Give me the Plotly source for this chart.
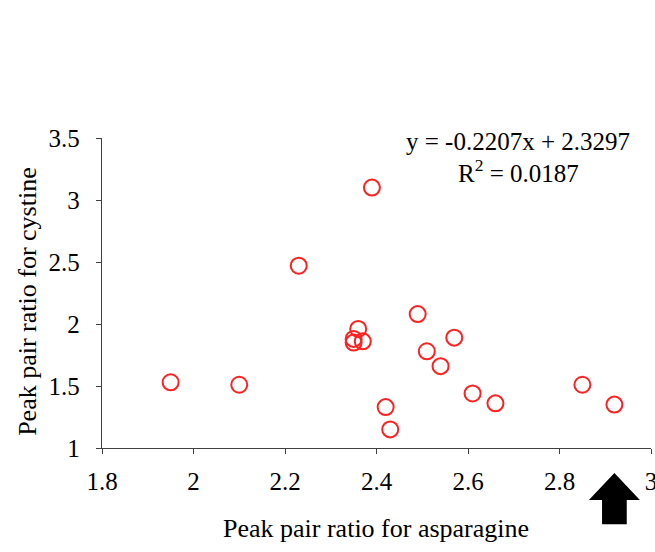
import plotly.graph_objects as go

# Peak pair ratios per sample
asparagine = [1.95, 2.10, 2.23, 2.39, 2.36, 2.35, 2.35, 2.37, 2.49, 2.51,
              2.54, 2.57, 2.42, 2.43, 2.61, 2.66, 2.85, 2.92]
cystine = [1.53, 1.51, 2.47, 3.10, 1.96, 1.88, 1.85, 1.86, 2.08, 1.78,
           1.66, 1.89, 1.33, 1.15, 1.44, 1.36, 1.51, 1.35]

x_ticks = [1.8, 2.0, 2.2, 2.4, 2.6, 2.8, 3.0]
x_tick_text = ["1.8", "2", "2.2", "2.4", "2.6", "2.8", "3"]
y_ticks = [1.0, 1.5, 2.0, 2.5, 3.0, 3.5]
y_tick_text = ["1", "1.5", "2", "2.5", "3", "3.5"]

fit_equation = "y = -0.2207x + 2.3297"
fit_r2 = "R<sup>2</sup> = 0.0187"
marked_x = 2.92  # sample highlighted by the arrow

FONT = "Liberation Serif"
AXIS_COLOR = "#404040"

fig = go.Figure()
fig.add_trace(go.Scatter(
    x=asparagine, y=cystine, mode="markers",
    marker=dict(symbol="circle-open", size=16, color="#ff2020",
                line=dict(width=2, color="#ff2020")),
    showlegend=False, hoverinfo="x+y",
))

axis_common = dict(
    showline=True, linecolor=AXIS_COLOR, linewidth=1.3,
    ticks="outside", ticklen=5, tickcolor=AXIS_COLOR, tickwidth=1.3,
    showgrid=False, zeroline=False, ticklabeloverflow="allow",
    tickfont=dict(family=FONT, size=25, color="black"),
)
fig.update_xaxes(range=[1.8, 3.0], tickvals=x_ticks, ticktext=x_tick_text,
                 ticklabelstandoff=6, **axis_common)
fig.update_yaxes(range=[1.0, 3.5], tickvals=y_ticks, ticktext=y_tick_text,
                 ticklabelstandoff=11, **axis_common)

# Axis titles
fig.add_annotation(text="Peak pair ratio for asparagine", xref="paper", yref="paper",
                   x=0.499, y=-0.26, xanchor="center", yanchor="middle",
                   showarrow=False, font=dict(family=FONT, size=26, color="black"))
fig.add_annotation(text="Peak pair ratio for cystine", xref="paper", yref="paper",
                   x=-0.137, y=0.474, xanchor="center", yanchor="middle", textangle=-90,
                   showarrow=False, font=dict(family=FONT, size=26, color="black"))

# Fit equation, one annotation per line
fig.add_annotation(text=fit_equation, xref="paper", yref="paper",
                   x=0.758, y=0.988, xanchor="center", yanchor="middle",
                   showarrow=False, font=dict(family=FONT, size=25, color="black"))
fig.add_annotation(text=fit_r2, xref="paper", yref="paper",
                   x=0.758, y=0.895, xanchor="center", yanchor="middle",
                   showarrow=False, font=dict(family=FONT, size=25, color="black"))

# Block arrow under the x axis pointing at the marked sample
head_half, shaft_half = 0.0557, 0.027
y_tip, y_base, y_end = -0.081, -0.168, -0.246
path = (f"M {marked_x - head_half} {y_base} L {marked_x} {y_tip} "
        f"L {marked_x + head_half} {y_base} L {marked_x + shaft_half} {y_base} "
        f"L {marked_x + shaft_half} {y_end} L {marked_x - shaft_half} {y_end} "
        f"L {marked_x - shaft_half} {y_base} Z")
fig.add_shape(type="path", path=path, xref="x", yref="paper",
              fillcolor="black", line=dict(width=0))

fig.update_layout(
    width=655, height=552,
    margin=dict(l=102, r=4, t=138, b=104, autoexpand=False),
    paper_bgcolor="white", plot_bgcolor="white",
    font=dict(family=FONT, color="black"),
)

fig.write_html("out.html")
